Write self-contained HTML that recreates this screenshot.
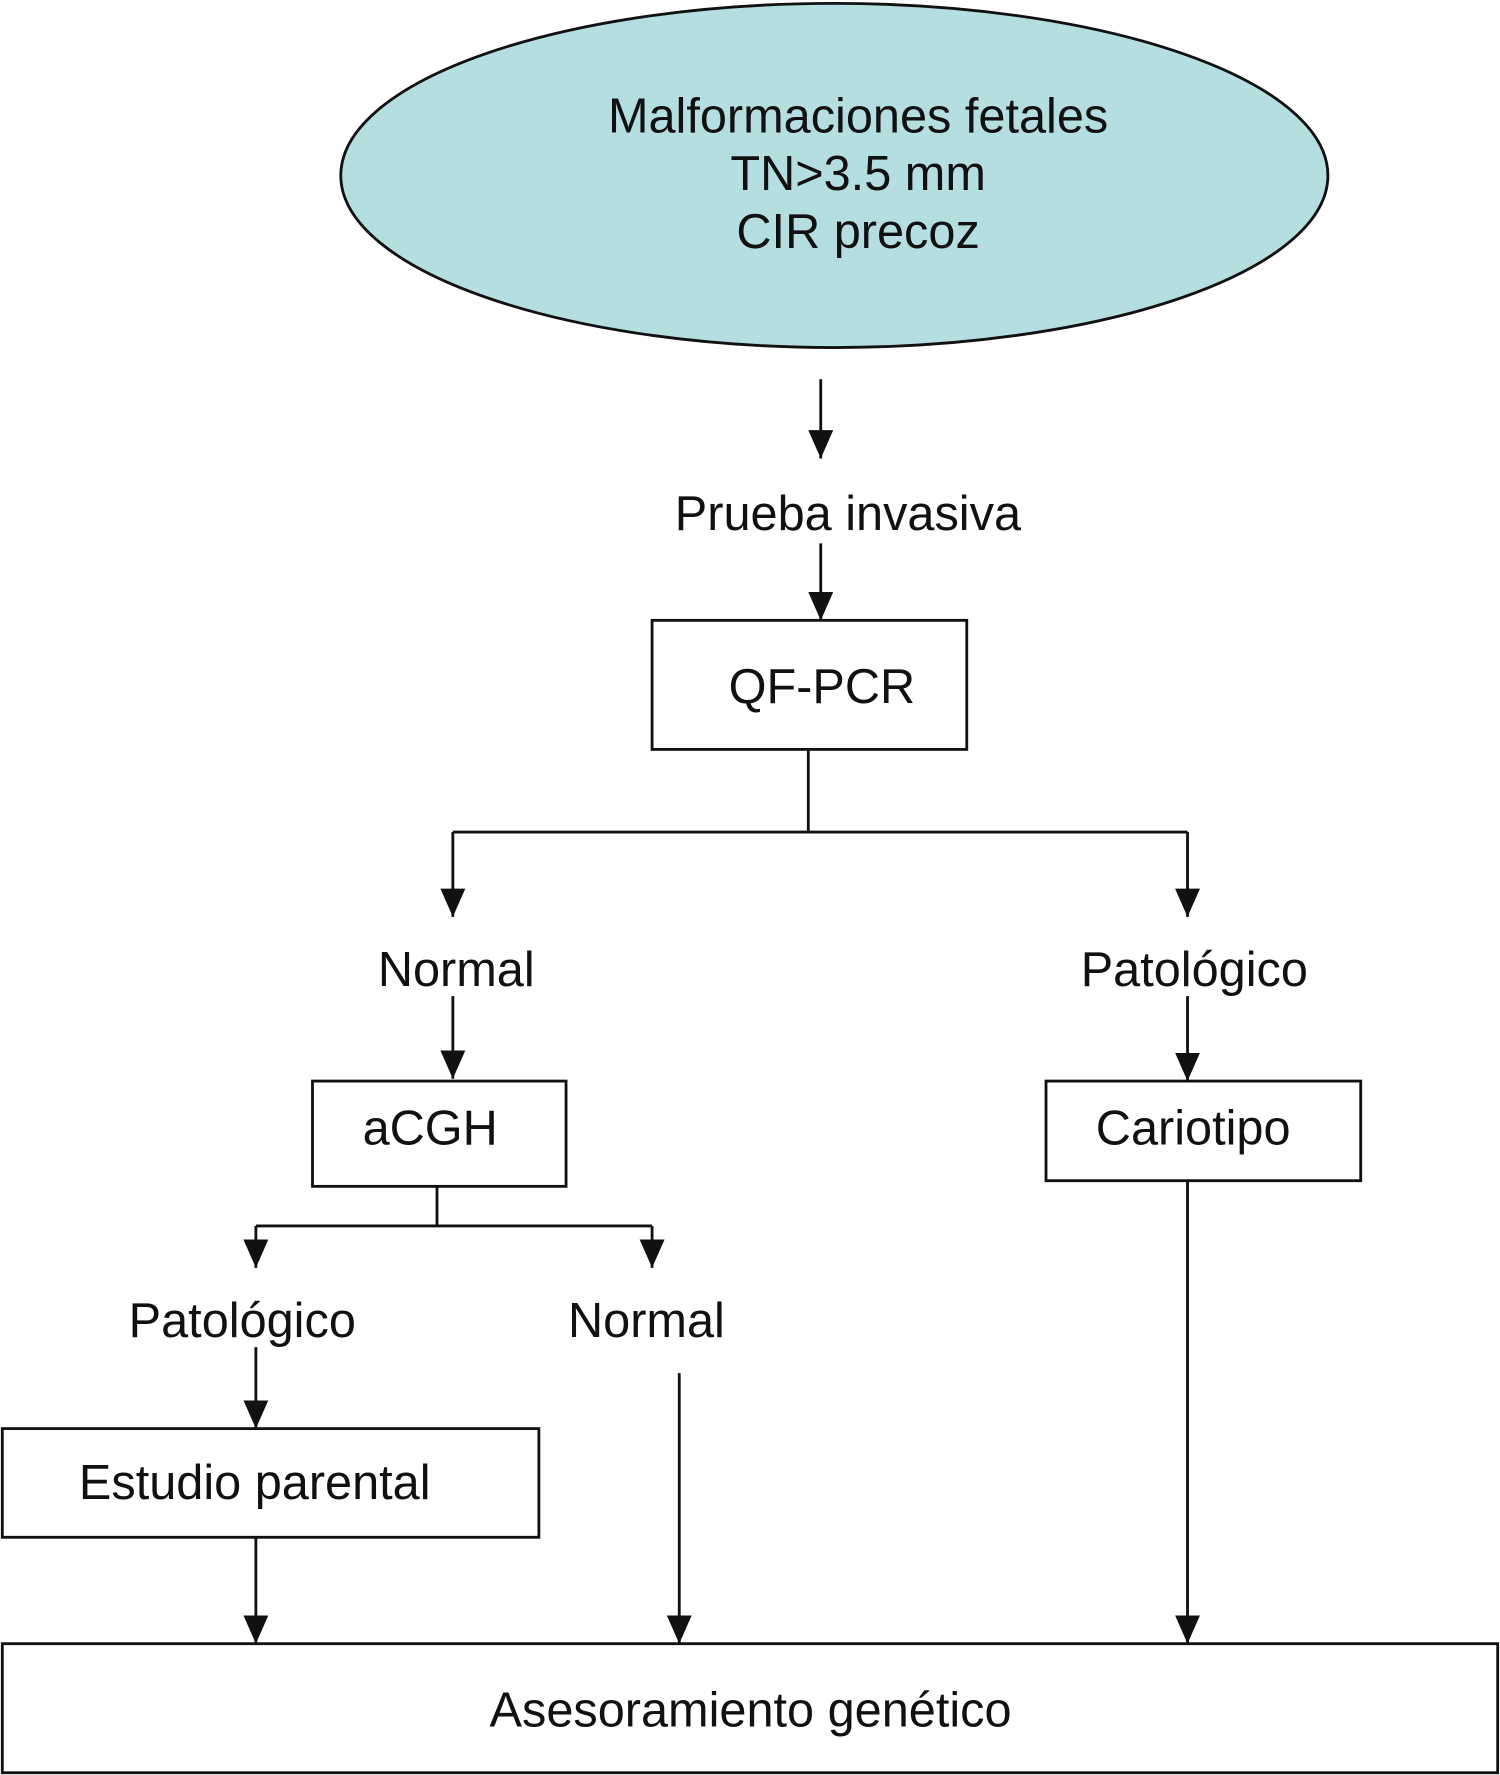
<!DOCTYPE html>
<html><head><meta charset="utf-8"><style>
html,body{margin:0;padding:0;background:#fff;}
svg{display:block;}
text{font-family:"Liberation Sans",Arial,sans-serif;font-size:43px;fill:#111;text-anchor:middle;}
</style></head><body>
<svg width="1500" height="1775" viewBox="0 0 1325 1568" xmlns="http://www.w3.org/2000/svg">
<defs>
<marker id="a" markerWidth="25" markerHeight="22" refX="25" refY="11" orient="auto" markerUnits="userSpaceOnUse" viewBox="0 0 25 22">
<path d="M0,0 L25,11 L0,22 Z" fill="#111"/>
</marker>
</defs>
<g fill="none" stroke="#111" stroke-width="2.5">
<ellipse cx="737" cy="155" rx="436" ry="152" fill="#b5dee0"/>
<rect x="576" y="548" width="278" height="114" fill="#fff"/>
<rect x="276" y="955" width="224" height="93" fill="#fff"/>
<rect x="924" y="955" width="278" height="88" fill="#fff"/>
<rect x="2" y="1262" width="474" height="96" fill="#fff"/>
<rect x="2" y="1452" width="1321" height="114" fill="#fff"/>
<path d="M714,662 V735 M400,735 H1049 M386,1048 V1083 M226,1083 H576"/>
</g>
<g stroke="#111" stroke-width="2.5" marker-end="url(#a)">
<line x1="725" y1="335" x2="725" y2="405"/>
<line x1="725" y1="480" x2="725" y2="548"/>
<line x1="400" y1="735" x2="400" y2="810"/>
<line x1="1049" y1="735" x2="1049" y2="810"/>
<line x1="400" y1="880" x2="400" y2="953"/>
<line x1="1049" y1="880" x2="1049" y2="955"/>
<line x1="226" y1="1083" x2="226" y2="1120"/>
<line x1="576" y1="1083" x2="576" y2="1120"/>
<line x1="226" y1="1190" x2="226" y2="1262"/>
<line x1="226" y1="1358" x2="226" y2="1452"/>
<line x1="600" y1="1213" x2="600" y2="1452"/>
<line x1="1049" y1="1043" x2="1049" y2="1452"/>
</g>
<text x="758" y="117">Malformaciones fetales</text>
<text x="758" y="168">TN&gt;3.5 mm</text>
<text x="758" y="219">CIR precoz</text>
<text x="749" y="468">Prueba invasiva</text>
<text x="726" y="621">QF-PCR</text>
<text x="403" y="871">Normal</text>
<text x="1055" y="871">Patológico</text>
<text x="380" y="1011">aCGH</text>
<text x="1054" y="1011">Cariotipo</text>
<text x="214" y="1181">Patológico</text>
<text x="571" y="1181">Normal</text>
<text x="225" y="1324">Estudio parental</text>
<text x="663" y="1525">Asesoramiento genético</text>
</svg>
</body></html>
